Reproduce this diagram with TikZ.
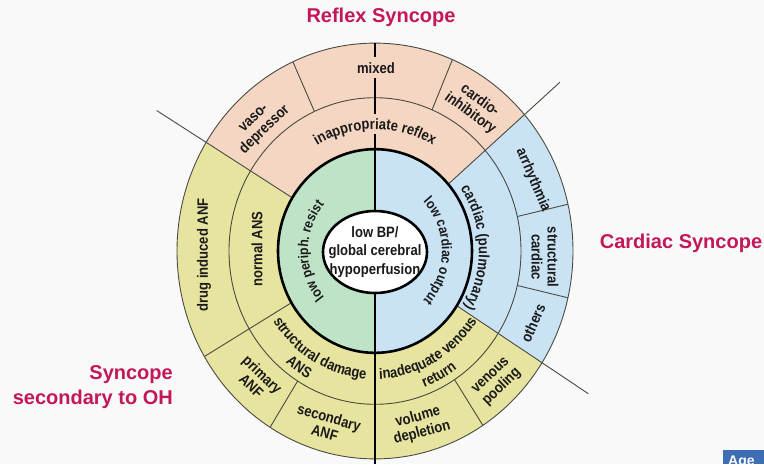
\documentclass[tikz,border=0pt]{standalone}
\usepackage{fontspec}
\setmainfont{Liberation Sans}
\newfontfamily\labfont{Liberation Sans}[FakeStretch=0.87]
\usetikzlibrary{decorations.text}
\definecolor{peach}{HTML}{F5D6C2}
\definecolor{oliveyel}{HTML}{E6E49F}
\definecolor{lblue}{HTML}{C9E3F5}
\definecolor{lgreen}{HTML}{BFE3C6}
\definecolor{titlered}{HTML}{C3175A}
\definecolor{thinline}{HTML}{4A4A42}
\definecolor{txt}{HTML}{1A1A1A}
\definecolor{bgcol}{HTML}{F9F9F9}
\definecolor{agebox}{HTML}{3D6DB5}
\newcommand{\labf}{\labfont\bfseries\fontsize{15}{16}\selectfont}
\newcommand{\labs}{\labfont\bfseries\fontsize{14}{15}\selectfont}
\newcommand{\ringsector}[5]{%
  \fill[#1] (#2:#4) arc[start angle=#2, end angle=#3, radius=#4] -- (#3:#5) arc[start angle=#3, end angle=#2, radius=#5] -- cycle;}
\begin{document}
\begin{tikzpicture}[x=1pt,y=1pt,
  thinl/.style={draw=thinline, line width=0.9pt},
  thickl/.style={draw=black, line width=2.6pt},
  lab/.style={font=\labf, text=txt, align=center, inner sep=0pt},
  titl/.style={font=\fontsize{20}{25}\selectfont\bfseries, text=titlered, inner sep=0pt},
  curv/.style={decorate, decoration={text along path, text align=center, text color=txt, text={#1}}},
]
\path[use as bounding box, fill=bgcol] (0,-464) rectangle (764,0);

% ---------- rings ----------
\begin{scope}[shift={(375,-251)}, yscale=1.05]
  \ringsector{peach}{41}{148.5}{97}{198}
  \ringsector{oliveyel}{148.5}{327.5}{97}{198}
  \ringsector{lblue}{-32.5}{41}{97}{198}
  \fill[lgreen] (90:97) arc[start angle=90, end angle=270, radius=97] -- cycle;
  \fill[lblue] (-90:97) arc[start angle=-90, end angle=90, radius=97] -- cycle;
  \draw[thinl] (0,0) circle[radius=198];
  \draw[thinl] (0,0) circle[radius=146];
  \draw[thinl] (148.5:97) -- (148.5:256);
  \draw[thinl] (41:97) -- (41:245);
  \draw[thinl] (-32.5:97) -- (-32.5:253);
  \draw[thinl] (210.5:97) -- (210.5:198);
  \draw[thinl] (238:146) -- (238:198);
  \draw[thinl] (-57:146) -- (-57:198);
  \draw[thinl] (13:146) -- (13:198);
  \draw[thinl] (-13:146) -- (-13:198);
  \draw[thinl] (114.5:146) -- (114.5:198);
  \draw[thinl] (67:146) -- (67:198);
  \draw[thickl] (0,0) circle[radius=97];
\end{scope}

% ---------- thick vertical divider ----------
\draw[thickl] (375,-43) -- (375,-57);
\draw[thickl] (375,-78) -- (375,-114);
\draw[thickl] (375,-134) -- (375,-212);
\draw[thickl] (375,-292) -- (375,-464);

% ---------- centre ----------
\draw[thickl, fill=white] (375,-252) ellipse[x radius=52, y radius=41];
\node[lab, font=\labfont\bfseries\fontsize{15}{18.5}\selectfont] (centre) at (375,-252) {low BP/\\global cerebral\\hypoperfusion};

% ---------- straight labels ----------
\node[lab] (mixed) at (376,-68) {mixed};
\node[lab, rotate=44] (vaso) at (260,-125) {vaso-\\depressor};
\node[lab, rotate=-36] (cardio) at (475,-107) {cardio-\\inhibitory};
\node[lab, rotate=90] (drug) at (204,-255) {drug induced ANF};
\node[lab, rotate=90] (normal) at (257,-249) {normal ANS};
\node[lab, rotate=-44] (primary) at (257,-380) {primary\\ANF};
\node[lab, rotate=-16] (secondary) at (327,-425) {secondary\\ANF};
\node[lab, rotate=15] (volume) at (420,-425) {volume\\depletion};
\node[lab, rotate=44] (venous) at (497,-382) {venous\\pooling};
\node[lab, rotate=66] (others) at (533,-323) {others};
\node[lab, rotate=-90] (structc) at (545,-257) {structural\\cardiac};
\node[lab, rotate=-67] (arrh) at (533,-180) {arrhythmia};

% ---------- curved labels ----------
\begin{scope}[shift={(375,-251)}]
  \path[curv={|\labf|inappropriate reflex}] (160:116 and 121.8) arc[start angle=160, end angle=20, x radius=116, y radius=121.8];
  \path[curv={|\labs|low periph. resist}] (250:67 and 70.4) arc[start angle=250, end angle=110, x radius=67, y radius=70.4];
  \path[curv={|\labs|low cardiac output}] (70:67 and 70.4) arc[start angle=70, end angle=-70, x radius=67, y radius=70.4];
  \path[curv={|\labf|cardiac (pulmonary)}] (52:104 and 109.2) arc[start angle=52, end angle=-48, x radius=104, y radius=109.2];
  \path[curv={|\labf|structural damage}] (190:122 and 128.1) arc[start angle=190, end angle=290, x radius=122, y radius=128.1];
  \path[curv={|\labf|ANS}] (196:139 and 146) arc[start angle=196, end angle=276, x radius=139, y radius=146];
  \path[curv={|\labf|inadequate venous}] (249:122 and 128.1) arc[start angle=249, end angle=349, x radius=122, y radius=128.1];
  \path[curv={|\labf|return}] (258:139 and 146) arc[start angle=258, end angle=338, x radius=139, y radius=146];
\end{scope}

% ---------- titles ----------
\node[titl] (reflex) at (381,-17) {Reflex Syncope};
\node[titl] (cardiacs) at (681,-243) {Cardiac Syncope};
\node[titl, align=right, anchor=east] (oh) at (173,-387.5) {Syncope\\secondary to OH};

% ---------- corner box ----------
\begin{scope}
  \clip (723,-464) rectangle (764,-450);
  \fill[agebox] (723,-464) rectangle (764,-450);
  \node[anchor=north west, inner sep=0pt, text=white, font=\bfseries\fontsize{14}{14}\selectfont] (age) at (728,-456) {Age};
\end{scope}
\end{tikzpicture}
\end{document}
